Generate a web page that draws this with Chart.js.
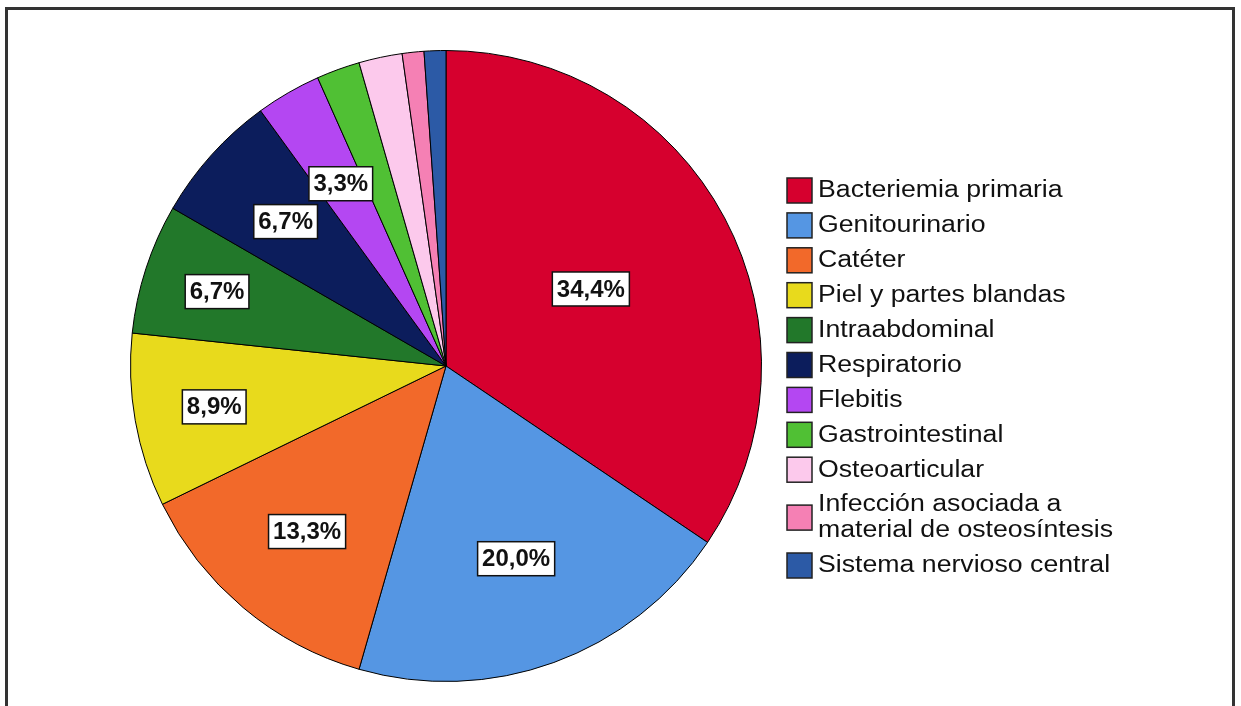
<!DOCTYPE html>
<html>
<head>
<meta charset="utf-8">
<script src="https://cdn.jsdelivr.net/npm/chart.js@4/dist/chart.umd.min.js"></script>
<style>
  html, body { margin: 0; padding: 0; background: #fff; overflow: hidden; }
  #wrap { position: relative; width: 1241px; height: 706px; }
  #frame {
    position: absolute; left: 5px; top: 7px; width: 1224px; height: 720px;
    border: 3px solid #333; pointer-events: none;
  }
  canvas { position: absolute; left: 0; top: 0; }
</style>
</head>
<body>
<div id="wrap">
  <canvas id="pieChart" width="1241" height="706"></canvas>
  <div id="frame"></div>
</div>
<script>
const categories = [
  'Bacteriemia primaria',
  'Genitourinario',
  'Catéter',
  'Piel y partes blandas',
  'Intraabdominal',
  'Respiratorio',
  'Flebitis',
  'Gastrointestinal',
  'Osteoarticular',
  ['Infección asociada a', 'material de osteosíntesis'],
  'Sistema nervioso central'
];
// cases per focus (n = 90)
const cases = [31, 18, 12, 8, 6, 6, 3, 2, 2, 1, 1];
const sliceColors = [
  '#d6002e', '#5596e3', '#f2692a', '#e8da1c', '#22782a', '#0c1d5c',
  '#b447f2', '#50c034', '#fcc9ec', '#f580b4', '#2c5aa6'
];

const FONT = '"Liberation Sans", Arial, sans-serif';

// percentage boxes inside the slices
const pctLabels = {
  id: 'pctLabels',
  afterDatasetsDraw(chart, args, opts) {
    const ctx = chart.ctx;
    const meta = chart.getDatasetMeta(0);
    const data = chart.data.datasets[0].data;
    const total = data.reduce((a, b) => a + b, 0);
    ctx.save();
    ctx.font = 'bold 24px ' + FONT;
    ctx.textAlign = 'center';
    ctx.textBaseline = 'middle';
    meta.data.forEach((arc, i) => {
      const pct = data[i] / total * 100;
      if (pct < 3) return;
      const p = arc.getProps(['x', 'y', 'startAngle', 'endAngle', 'outerRadius'], true);
      const mid = (p.startAngle + p.endAngle) / 2;
      const r = p.outerRadius * (opts.radius[i] || 0.68);
      const x = p.x + Math.cos(mid) * r;
      const y = p.y + Math.sin(mid) * r;
      const txt = pct.toFixed(1).replace('.', ',') + '%';
      const w = ctx.measureText(txt).width + 9;
      const h = 34;
      ctx.fillStyle = '#fff';
      ctx.fillRect(x - w / 2, y - h / 2, w, h);
      ctx.lineWidth = 1.5;
      ctx.strokeStyle = '#111';
      ctx.strokeRect(x - w / 2, y - h / 2, w, h);
      ctx.fillStyle = '#111';
      ctx.fillText(txt, x, y + 1);
    });
    ctx.restore();
  }
};

// legend on the right, with wrapped labels (text is drawn a bit wide, like the original)
const sideLegend = {
  id: 'sideLegend',
  afterDraw(chart, args, opts) {
    const ctx = chart.ctx;
    const labels = chart.data.labels;
    const colors = chart.data.datasets[0].backgroundColor;
    ctx.save();
    ctx.font = '23px ' + FONT;
    ctx.textBaseline = 'middle';
    ctx.textAlign = 'left';
    let y = opts.top;
    labels.forEach((lab, i) => {
      const lines = Array.isArray(lab) ? lab : [lab];
      const midY = y + (lines.length - 1) * opts.lineHeight / 2;
      ctx.fillStyle = colors[i];
      ctx.fillRect(opts.left, midY - 12, 25, 25);
      ctx.lineWidth = 1.5;
      ctx.strokeStyle = '#222';
      ctx.strokeRect(opts.left, midY - 12, 25, 25);
      ctx.fillStyle = '#111';
      lines.forEach((ln, k) => {
        ctx.save();
        ctx.translate(opts.left + 31, y + k * opts.lineHeight + 1);
        ctx.scale(opts.stretch, 1);
        ctx.fillText(ln, 0, 0);
        ctx.restore();
      });
      y += (lines.length - 1) * opts.lineHeight + opts.rowGap;
    });
    ctx.restore();
  }
};

new Chart(document.getElementById('pieChart'), {
  type: 'pie',
  data: {
    labels: categories,
    datasets: [{
      data: cases,
      backgroundColor: sliceColors,
      borderColor: '#000',
      borderWidth: 1
    }]
  },
  options: {
    responsive: false,
    animation: false,
    layout: {
      padding: { left: 130, right: 479, top: 50, bottom: 24 }
    },
    plugins: {
      legend: { display: false },
      tooltip: { enabled: true },
      pctLabels: {
        radius: [0.52, 0.65, 0.685, 0.746, 0.763, 0.684, 0.667]
      },
      sideLegend: { left: 787, top: 190, lineHeight: 26, rowGap: 34.9, stretch: 1.16 }
    }
  },
  plugins: [pctLabels, sideLegend]
});
</script>
</body>
</html>
